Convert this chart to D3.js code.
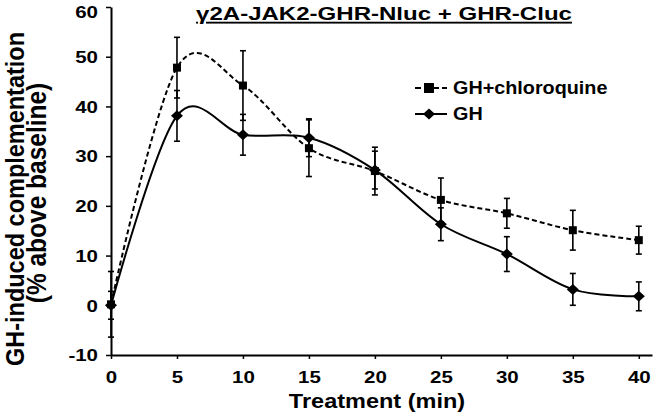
<!doctype html>
<html>
<head>
<meta charset="utf-8">
<title>GH complementation</title>
<script src="https://d3js.org/d3.v7.min.js"></script>
<style>
  html, body { margin: 0; padding: 0; background: #fff; }
  svg text { font-family: Arial, "Liberation Sans", sans-serif; font-weight: bold; fill: #000; }
</style>
</head>
<body>
<svg id="chart" width="656" height="419"></svg>
<script>
    // data
    var times = [0, 5, 10, 15, 20, 25, 30, 35, 40];
    var chloroMean = [0.2, 47.8, 44.2, 31.6, 27.0, 21.2, 18.5, 15.1, 13.1];
    var chloroErr  = [6.6, 6.1, 7.0, 5.7, 4.8, 4.4, 3.0, 4.0, 2.8];
    var ghMean = [0, 38.1, 34.3, 33.7, 27.2, 16.3, 10.3, 3.2, 1.8];
    var ghErr  = [2.8, 5.1, 4.1, 3.8, 3.8, 3.3, 3.5, 3.2, 2.9];
    var xTicks = [0, 5, 10, 15, 20, 25, 30, 35, 40];
    var yTicks = [-10, 0, 10, 20, 30, 40, 50, 60];
    var seriesNames = ["GH+chloroquine", "GH"];
    var titleText = "\u03b32A-JAK2-GHR-Nluc + GHR-Cluc";

    var svg = d3.select("#chart");

    var x = d3.scaleLinear().domain([0, 41]).range([111, 652]);
    var y = d3.scaleLinear().domain([-10, 60]).range([355, 7]);

    // axes
    var xAxis = svg.append("g")
        .attr("transform", "translate(0," + y(-10) + ")")
        .call(d3.axisBottom(x).tickValues(xTicks).tickSize(4).tickSizeOuter(0).tickFormat(function(d){ return String(d); }));
    var yAxis = svg.append("g")
        .attr("transform", "translate(" + x(0) + ",0)")
        .call(d3.axisLeft(y).tickValues(yTicks).tickSize(5).tickSizeOuter(0).tickFormat(function(d){ return String(d); }));

    [xAxis, yAxis].forEach(function(ax){
        ax.select(".domain").attr("stroke", "#000").attr("stroke-width", 2);
        ax.selectAll(".tick line").attr("stroke", "#000").attr("stroke-width", 1.5);
        ax.selectAll(".tick text").attr("font-size", 16).attr("fill", "#000");
    });
    // the tick labels look horizontally stretched in the source
    xAxis.selectAll(".tick text")
        .attr("y", 0)
        .attr("dy", 0)
        .attr("transform", "translate(0,28) scale(1.28,1)");
    // keep the top label inside the picture
    var yMax = y.domain()[1];
    yAxis.selectAll(".tick text")
        .attr("x", 0)
        .attr("dy", "0.36em")
        .attr("text-anchor", "end")
        .attr("transform", function(d){ return "translate(-13," + (d === yMax ? 5 : 0) + ") scale(1.28,1)"; });

    var series = [
        { name: seriesNames[0], mean: chloroMean, err: chloroErr, dash: "5,3", marker: "square" },
        { name: seriesNames[1], mean: ghMean, err: ghErr, dash: null, marker: "diamond" }
    ];

    var line = d3.line()
        .x(function(d){ return x(d.t); })
        .y(function(d){ return y(d.v); })
        .curve(d3.curveCardinal.tension(0));

    series.forEach(function(s){
        s.points = times.map(function(t, i){ return { t: t, v: s.mean[i], e: s.err[i] }; });
    });

    // lines
    series.forEach(function(s){
        svg.append("path")
            .datum(s.points)
            .attr("fill", "none")
            .attr("stroke", "#000")
            .attr("stroke-width", 2)
            .attr("stroke-dasharray", s.dash)
            .attr("d", line);
    });

    // error bars
    series.forEach(function(s){
        var g = svg.append("g").attr("stroke", "#000").attr("stroke-width", 1.6);
        s.points.forEach(function(p){
            g.append("line")
                .attr("x1", x(p.t)).attr("x2", x(p.t))
                .attr("y1", y(p.v - p.e)).attr("y2", y(p.v + p.e));
            [p.v - p.e, p.v + p.e].forEach(function(v){
                g.append("line")
                    .attr("x1", x(p.t) - 3).attr("x2", x(p.t) + 3)
                    .attr("y1", y(v)).attr("y2", y(v));
            });
        });
    });

    function drawMarker(g, kind, cx, cy){
        if(kind === "square"){
            g.append("rect")
                .attr("x", cx - 4).attr("y", cy - 4)
                .attr("width", 8).attr("height", 8)
                .attr("fill", "#000");
        } else {
            g.append("path")
                .attr("d", "M" + (cx - 6) + "," + cy + "L" + cx + "," + (cy - 5.5) +
                           "L" + (cx + 6) + "," + cy + "L" + cx + "," + (cy + 5.5) + "Z")
                .attr("fill", "#000");
        }
    }

    // markers: GH first, squares on top
    series.slice().reverse().forEach(function(s){
        var g = svg.append("g");
        s.points.forEach(function(p){
            drawMarker(g, s.marker, x(p.t), y(p.v));
        });
    });

    // legend
    var legend = svg.append("g");
    series.forEach(function(s, i){
        var ly = 88 + i * 26;
        legend.append("line")
            .attr("x1", 415).attr("x2", 447)
            .attr("y1", ly).attr("y2", ly)
            .attr("stroke", "#000").attr("stroke-width", 2)
            .attr("stroke-dasharray", s.dash ? "6,3" : null);
        if(s.marker === "square"){
            legend.append("rect")
                .attr("x", 424).attr("y", ly - 5)
                .attr("width", 10).attr("height", 10)
                .attr("fill", "#000");
        } else {
            drawMarker(legend, "diamond", 429, ly);
        }
        legend.append("text")
            .attr("transform", "translate(453," + (ly + 6) + ") scale(1.1,1)")
            .attr("font-size", 18)
            .text(s.name);
    });

    // title
    svg.append("text")
        .attr("transform", "translate(384,20) scale(1.3,1)")
        .attr("text-anchor", "middle")
        .attr("font-size", 18.5)
        .attr("text-decoration", "underline")
        .text(titleText);

    // axis titles
    svg.append("text")
        .attr("transform", "translate(377,408) scale(1.12,1)")
        .attr("text-anchor", "middle")
        .attr("font-size", 21)
        .text("Treatment (min)");

    svg.append("text")
        .attr("transform", "translate(24,199) scale(1.12,1) rotate(-90)")
        .attr("text-anchor", "middle")
        .attr("font-size", 23.5)
        .text("GH-induced complementation");
    svg.append("text")
        .attr("transform", "translate(46,193) scale(1.12,1) rotate(-90)")
        .attr("text-anchor", "middle")
        .attr("font-size", 24.5)
        .text("(% above baseline)");
</script>
</body>
</html>
